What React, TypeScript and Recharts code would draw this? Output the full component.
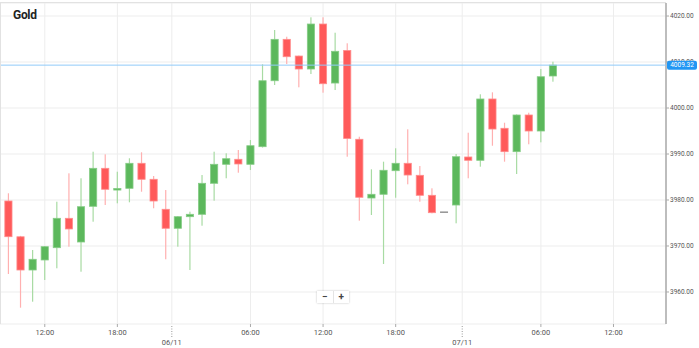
import React from 'react';
import { ComposedChart, Bar, XAxis, YAxis, CartesianGrid, ReferenceLine } from 'recharts';

// hourly candles
const opens = [
  3979.78, 3972.0, 3964.78, 3966.96, 3969.63, 3976.02, 3970.87, 3978.63, 3986.89, 3982.17,
  3982.54, 3987.98, 3984.5, 3977.98, 3973.85, 3976.37, 3976.89, 3983.63, 3987.76, 3988.85,
  3987.76, 3991.59, 4005.93, 4014.93, 4011.3, 4008.48, 4018.26, 4005.43, 4012.5, 3993.2,
  3980.43, 3981.24, 3986.37, 3987.98, 3985.37, 3981.02, 3977.33, 3978.91, 3989.35, 3988.63,
  4001.96, 3995.59, 3990.5, 3998.48, 3995.0, 4006.96
];
const closes = [
  3972.02, 3964.78, 3967.11, 3969.85, 3976.02, 3973.7, 3978.54, 3986.89, 3982.33, 3982.5,
  3987.98, 3984.5, 3979.78, 3973.85, 3976.37, 3976.89, 3983.63, 3987.76, 3988.98, 3987.83,
  3991.8, 4005.93, 4014.93, 4011.15, 4008.48, 4018.26, 4005.28, 4012.33, 3993.37, 3980.59,
  3981.24, 3986.46, 3987.98, 3985.43, 3981.02, 3977.24, 3977.33, 3989.41, 3988.63, 4001.96,
  3995.43, 3990.5, 3998.48, 3995.0, 4006.8, 4009.32
];
const highs = [
  3981.46, 3972.2, 3969.13, 3970.0, 3979.63, 3985.8, 3984.72, 3990.5, 3989.93, 3986.15,
  3989.07, 3990.37, 3985.22, 3982.17, 3976.5, 3977.46, 3985.43, 3990.5, 3990.15, 3990.87,
  3993.04, 4009.5, 4016.96, 4015.5, 4011.4, 4019.72, 4019.72, 4016.37, 4014.07, 3993.76,
  3986.67, 3988.33, 3991.24, 3995.37, 3987.39, 3982.54, 3977.33, 3990.0, 3994.63, 4002.98,
  4003.41, 3996.8, 3998.6, 3998.98, 4008.48, 4010.07
];
const lows = [
  3963.91, 3956.59, 3957.89, 3962.61, 3965.15, 3969.85, 3964.41, 3975.28, 3978.91, 3979.28,
  3979.5, 3981.8, 3978.2, 3967.11, 3969.85, 3964.78, 3974.41, 3979.85, 3984.72, 3985.93,
  3986.52, 3991.4, 4005.0, 4009.57, 4004.5, 4007.39, 4003.33, 4003.91, 3989.41, 3975.5,
  3976.74, 3966.09, 3980.5, 3983.41, 3979.63, 3977.1, 3977.33, 3974.93, 3984.72, 3987.24,
  3991.8, 3988.33, 3985.65, 3992.11, 3992.54, 4005.72
];

const xTicks = [3, 9, 13.5, 20, 26, 32, 37.5, 44, 50];
const xTickLabels = ['12:00', '18:00', '06/11', '06:00', '12:00', '18:00', '07/11', '06:00', '12:00'];
const yTicks = [3960, 3970, 3980, 3990, 4000, 4010, 4020];
const lastPrice = 4009.32;

const X_DOMAIN: [number, number] = [-0.7, 54.34];
const Y_DOMAIN: [number, number] = [3953.04, 4022.83];
const AXIS_Y = 324; // bottom of the plot area

const GREEN = '#5cb85c';
const RED = '#ff5a5a';

const data = opens.map((o, i) => ({
  i,
  open: o,
  close: closes[i],
  wick: [lows[i], highs[i]],
  body: [Math.min(o, closes[i]), Math.max(o, closes[i])]
}));

const WickShape = (props: any) => {
  const { x, y, width, height, payload } = props;
  const h = Math.abs(height);
  if (h < 0.5) return null;
  const top = height < 0 ? y + height : y;
  const cx = x + width / 2;
  const up = payload.close >= payload.open;
  return <rect x={cx - 0.6} y={top} width={1.2} height={h} fill={up ? '#a8dba3' : '#ffb0b0'} />;
};

const BodyShape = (props: any) => {
  const { x, y, width, height, payload } = props;
  const cx = x + width / 2;
  const flat = payload.close === payload.open;
  const up = payload.close > payload.open;
  const h = Math.abs(height);
  const top = height < 0 ? y + height : y;
  const minH = 1.6;
  const hh = Math.max(h, minH);
  const yy = h < minH ? top + h / 2 - minH / 2 : top;
  if (flat) {
    return <rect x={cx - 4} y={yy} width={8} height={1.4} fill="#8c8c8c" />;
  }
  return (
    <rect
      x={cx - 3.6}
      y={yy}
      width={7.2}
      height={hh}
      fill={up ? GREEN : RED}
      stroke={up ? '#86cc86' : '#ff8c8c'}
      strokeWidth={0.8}
    />
  );
};

const XTick = ({ x, payload }: any) => {
  const label = xTickLabels[xTicks.indexOf(payload.value)];
  const isDate = label.includes('/');
  const y = AXIS_Y;
  return (
    <g>
      {isDate ? (
        <line x1={x} x2={x} y1={y + 2} y2={y + 13} stroke="#999" strokeDasharray="1 1.5" />
      ) : (
        <line x1={x} x2={x} y1={y} y2={y + 3} stroke="#aaa" />
      )}
      <text x={x} y={isDate ? y + 20.8 : y + 11.4} textAnchor="middle" fontSize={7.5} fill="#555">
        {label}
      </text>
    </g>
  );
};

const PriceTag = (props: any) => {
  const vb = props.viewBox || {};
  const left = vb.x + vb.width + 1;
  return (
    <g>
      <rect x={left} y={vb.y - 4.5} width={30} height={9} rx={2} fill="#2196f3" />
      <text x={left + 15} y={vb.y + 2.3} textAnchor="middle" fontSize={6.5} fill="#fff">
        {lastPrice.toFixed(2)}
      </text>
    </g>
  );
};

export default function App() {
  return (
    <div style={{ position: 'absolute', left: 0, top: 0, width: 699, height: 348, background: '#fff', fontFamily: 'Roboto, sans-serif' }}>
      <ComposedChart width={699} height={348} data={data} margin={{ top: 3, right: 0, bottom: 0, left: 0 }}>
        <CartesianGrid xAxisId="main" stroke="#ededed" />
        <XAxis
          xAxisId="main"
          type="number"
          dataKey="i"
          domain={X_DOMAIN}
          allowDataOverflow
          ticks={xTicks}
          interval={0}
          tick={<XTick />}
          tickLine={false}
          tickSize={0}
          tickMargin={0}
          height={24}
          axisLine={{ stroke: '#aaa', strokeWidth: 1.5 }}
        />
        <XAxis xAxisId="b" type="number" dataKey="i" domain={X_DOMAIN} allowDataOverflow hide />
        <YAxis
          orientation="right"
          type="number"
          domain={Y_DOMAIN}
          allowDataOverflow
          ticks={yTicks}
          interval={0}
          tickFormatter={(v: number) => v.toFixed(2)}
          width={33}
          tickSize={3}
          tickMargin={1}
          tick={{ fontSize: 6.5, fill: '#555' }}
          tickLine={{ stroke: '#aaa' }}
          axisLine={{ stroke: '#aaa', strokeWidth: 1.5 }}
        />
        <Bar xAxisId="main" dataKey="wick" barSize={8} shape={<WickShape />} isAnimationActive={false} />
        <Bar xAxisId="b" dataKey="body" barSize={8} shape={<BodyShape />} isAnimationActive={false} />
        <ReferenceLine
          xAxisId="main"
          y={lastPrice}
          stroke="#90caf9"
          strokeWidth={1}
          zIndex={3000}
          label={(p: any) => <PriceTag {...p} />}
        />
      </ComposedChart>
      <div style={{ position: 'absolute', left: 0, top: 2, width: 666, height: 1, background: '#e2e2e2' }} />
      <div style={{ position: 'absolute', left: 0, top: 2, width: 1, height: 322, background: '#e2e2e2' }} />
      <div style={{ position: 'absolute', left: 13, top: 8, fontSize: 12, fontWeight: 700, color: '#222', letterSpacing: -0.3 }}>
        Gold
      </div>
      <div
        style={{
          position: 'absolute',
          left: 317,
          top: 291,
          width: 32,
          height: 12,
          background: '#fff',
          boxShadow: '0 0 2px rgba(0,0,0,0.25)',
          display: 'flex',
          fontSize: 10,
          fontWeight: 700,
          color: '#444',
          lineHeight: '12px'
        }}
      >
        <span style={{ flex: 1, textAlign: 'center', borderRight: '1px solid #e4e4e4' }}>−</span>
        <span style={{ flex: 1, textAlign: 'center' }}>+</span>
      </div>
    </div>
  );
}
